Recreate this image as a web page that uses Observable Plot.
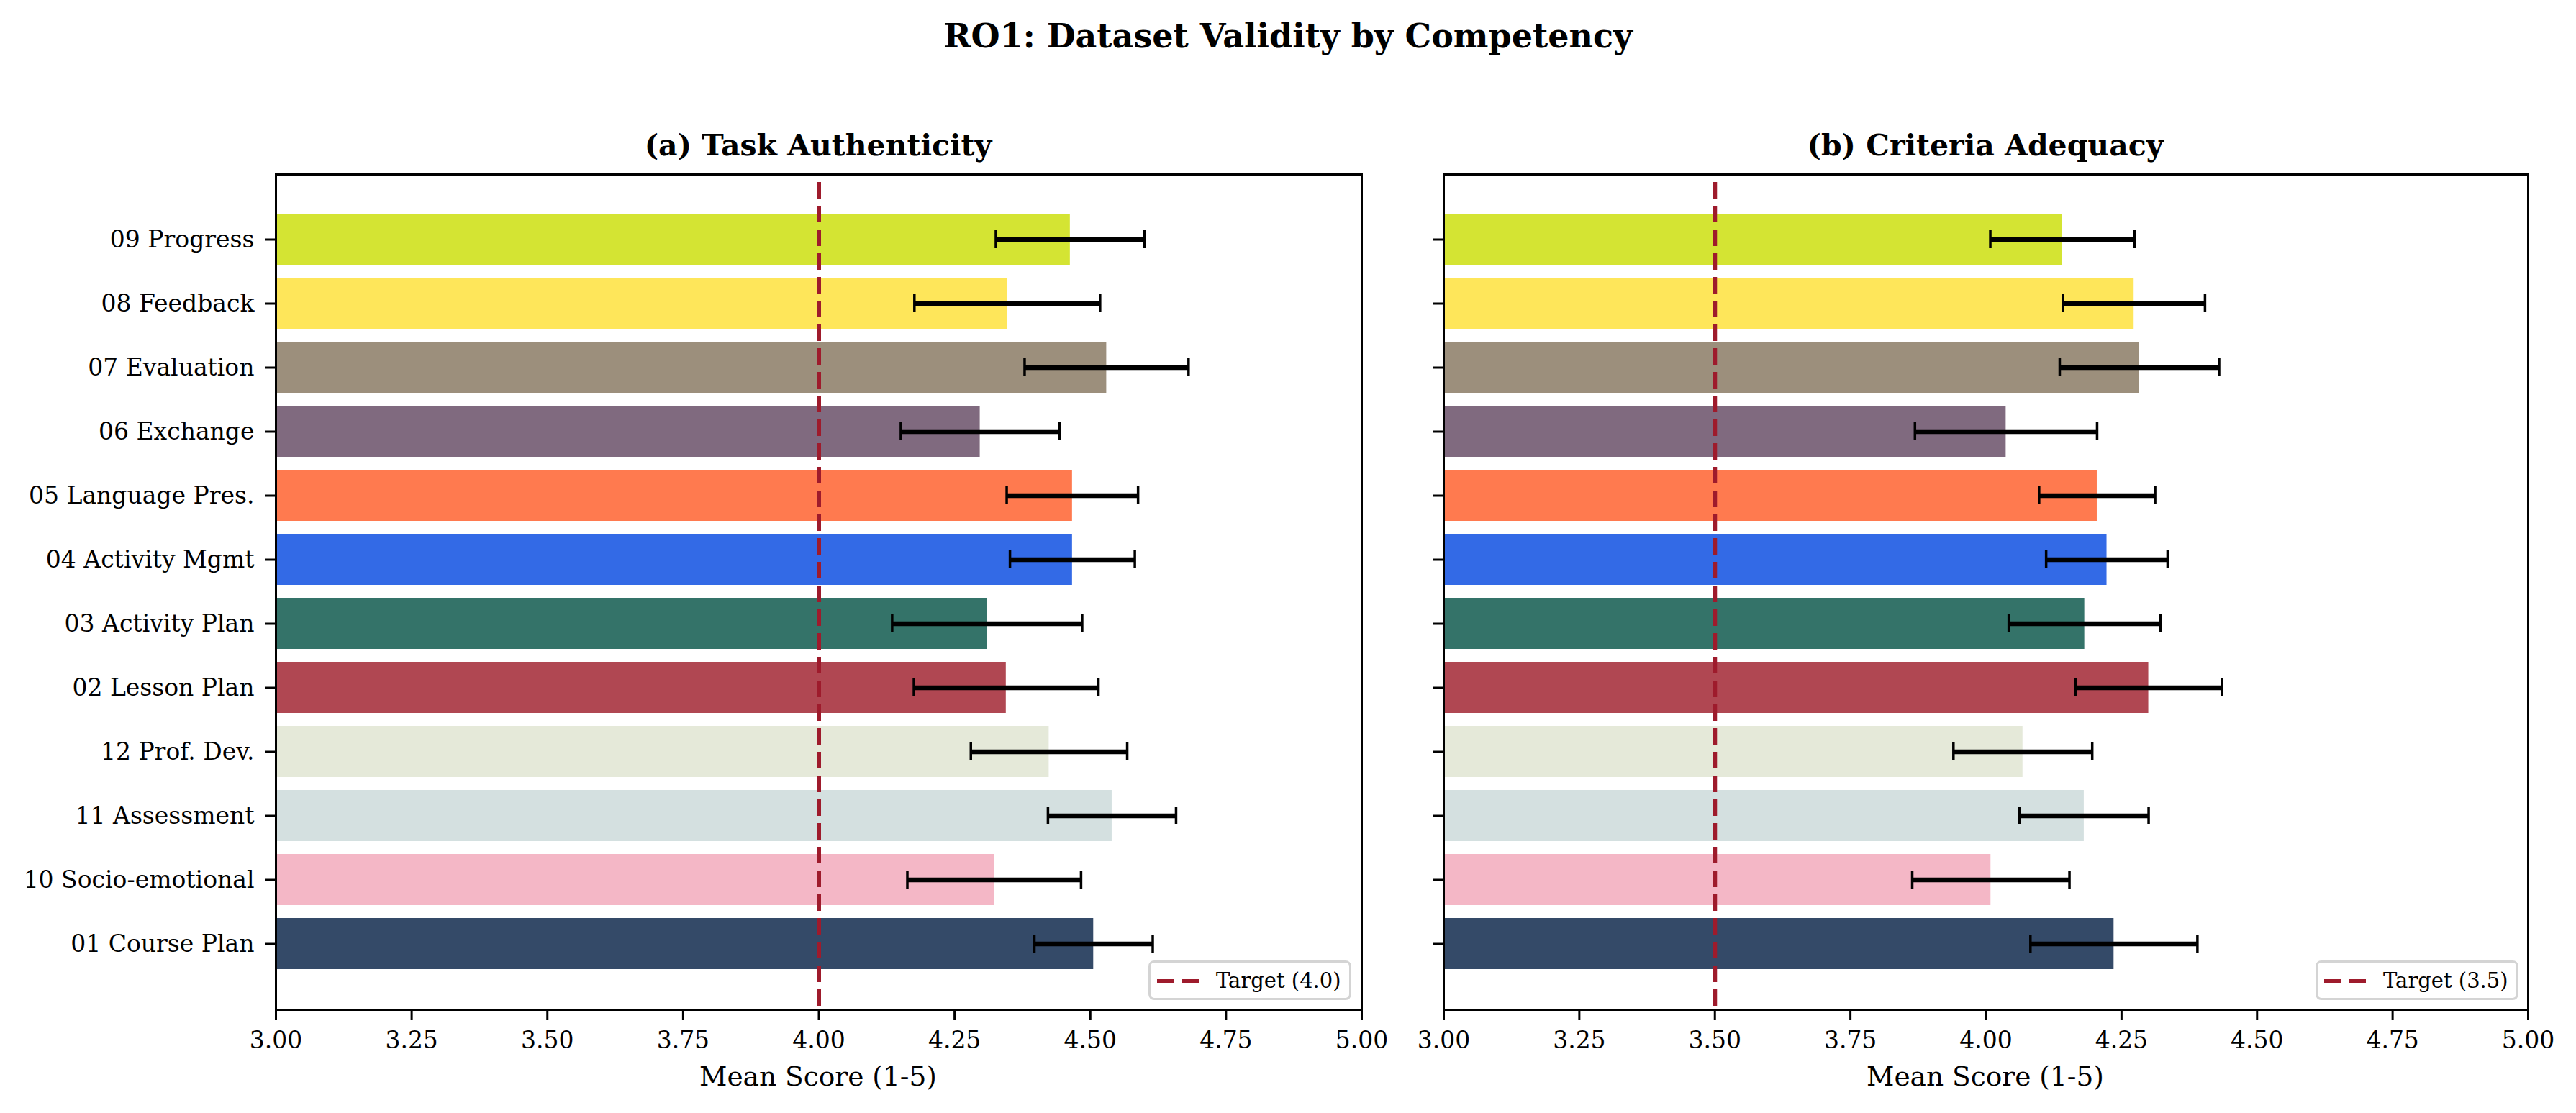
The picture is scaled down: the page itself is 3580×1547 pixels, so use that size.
<!DOCTYPE html>
<html>
<head>
<meta charset="utf-8">
<script src="https://cdn.jsdelivr.net/npm/d3@7"></script>
<script src="https://cdn.jsdelivr.net/npm/@observablehq/plot@0.6"></script>
<style>
  html, body { margin: 0; padding: 0; background: #fff; }
  #root { position: relative; width: 3580px; height: 1547px; font-family: "DejaVu Serif", serif; color: #000; overflow: hidden; }
  .txt { position: absolute; transform: translate(-50%, -50%); line-height: 1; white-space: nowrap; }
  .panel { position: absolute; top: 200px; }
  .panel svg { overflow: visible; }
  .legend { position: absolute; box-sizing: border-box; border: 3px solid #d4d4d4; border-radius: 8px; background: rgba(255,255,255,0.8); height: 55px; }
  .legend .dash { position: absolute; top: 23px; width: 23px; height: 6px; background: #9e1b2c; }
  .legend .lt { position: absolute; top: 50%; transform: translateY(-50%); font-size: 29px; line-height: 1; white-space: nowrap; }
</style>
</head>
<body>
<div id="root"></div>
<script>
// ---- data ----
const competencies = ["09 Progress", "08 Feedback", "07 Evaluation", "06 Exchange", "05 Language Pres.", "04 Activity Mgmt", "03 Activity Plan", "02 Lesson Plan", "12 Prof. Dev.", "11 Assessment", "10 Socio-emotional", "01 Course Plan"];
const barColors = ["#d4e433", "#fee65a", "#9c8f7c", "#806a7f", "#ff7a4f", "#336ae6", "#347369", "#b04752", "#e5e9d9", "#d4e0e0", "#f4b7c6", "#344a68"];
const authMean = [4.463, 4.347, 4.530, 4.297, 4.467, 4.467, 4.310, 4.345, 4.424, 4.540, 4.323, 4.506];
const authErr  = [0.137, 0.171, 0.151, 0.146, 0.121, 0.115, 0.175, 0.170, 0.144, 0.118, 0.160, 0.109];
const critMean = [4.141, 4.273, 4.283, 4.037, 4.205, 4.223, 4.182, 4.300, 4.068, 4.181, 4.009, 4.236];
const critErr  = [0.133, 0.131, 0.147, 0.168, 0.107, 0.112, 0.140, 0.135, 0.128, 0.119, 0.145, 0.154];
const xTicks = [3.00, 3.25, 3.50, 3.75, 4.00, 4.25, 4.50, 4.75, 5.00];
const xDomain = [3, 5];
const targets = [4.0, 3.5];
const suptitle = "RO1: Dataset Validity by Competency";
const panelTitles = ["(a) Task Authenticity", "(b) Criteria Adequacy"];
const xLabel = "Mean Score (1-5)";
const legendLabels = ["Target (4.0)", "Target (3.5)"];

const root = document.getElementById("root");
const targetColor = "#9e1b2c";

function addText(str, x, y, size, weight) {
  const d = document.createElement("div");
  d.className = "txt";
  d.textContent = str;
  d.style.left = x + "px";
  d.style.top = y + "px";
  d.style.fontSize = size + "px";
  d.style.fontWeight = weight || "normal";
  root.appendChild(d);
}

function panel(means, errs, target, showLabels, cfg) {
  const data = competencies.map((c, i) => ({label: c, value: means[i], err: errs[i], color: barColors[i]}));
  const chart = Plot.plot({
    width: cfg.width,
    height: 1347,
    marginLeft: cfg.marginLeft,
    marginRight: cfg.marginRight,
    marginTop: 42,
    marginBottom: 144,
    style: {fontFamily: "DejaVu Serif", fontSize: "33px", background: "transparent", color: "#000", overflow: "visible"},
    x: {domain: xDomain},
    y: {type: "band", domain: competencies, paddingInner: 0.2, paddingOuter: 0.59, align: 0.5},
    marks: [
      Plot.barX(data, {y: "label", x: "value", fill: "color", clip: true}),
      Plot.ruleX([target], {stroke: targetColor, strokeWidth: 6, strokeDasharray: "23,10", strokeDashoffset: 22}),
      Plot.ruleY(data, {y: "label", x1: d => d.value - d.err, x2: d => d.value + d.err, stroke: "#000", strokeWidth: 6.5}),
      Plot.tickX(data, {y: "label", x: d => d.value - d.err, stroke: "#000", strokeWidth: 3.5, insetTop: 23, insetBottom: 23}),
      Plot.tickX(data, {y: "label", x: d => d.value + d.err, stroke: "#000", strokeWidth: 3.5, insetTop: 23, insetBottom: 23}),
      Plot.frame({stroke: "#000", strokeWidth: 3}),
      Plot.axisX(xTicks, {tickFormat: d3.format(".2f"), tickSize: 15, tickPadding: 15, strokeWidth: 3, fontSize: 33, label: null}),
      Plot.axisY({tickSize: 15, tickPadding: 15, strokeWidth: 3, fontSize: 33, label: null, tickFormat: showLabels ? (d => d) : (() => "")})
    ]
  });
  const wrap = document.createElement("div");
  wrap.className = "panel";
  wrap.style.left = cfg.left + "px";
  wrap.appendChild(chart);
  root.appendChild(wrap);
}

panel(authMean, authErr, targets[0], true, {left: 0, width: 1900, marginLeft: 383, marginRight: 8});
panel(critMean, critErr, targets[1], false, {left: 1900, width: 1680, marginLeft: 106, marginRight: 67});

addText(suptitle, 1790, 50, 46, "bold");
addText(panelTitles[0], 1137, 202, 41, "bold");
addText(panelTitles[1], 2759, 202, 41, "bold");
addText(xLabel, 1137, 1497, 37.5);
addText(xLabel, 2759, 1497, 37.5);

function legend(label, left, width) {
  const box = document.createElement("div");
  box.className = "legend";
  box.style.left = left + "px";
  box.style.top = "1335px";
  box.style.width = width + "px";
  const d1 = document.createElement("div"); d1.className = "dash"; d1.style.left = "9px";
  const d2 = document.createElement("div"); d2.className = "dash"; d2.style.left = "44px";
  const t = document.createElement("div"); t.className = "lt"; t.style.left = "91px"; t.textContent = label;
  box.append(d1, d2, t);
  root.appendChild(box);
}
legend(legendLabels[0], 1596, 282);
legend(legendLabels[1], 3218, 282);
</script>
</body>
</html>
